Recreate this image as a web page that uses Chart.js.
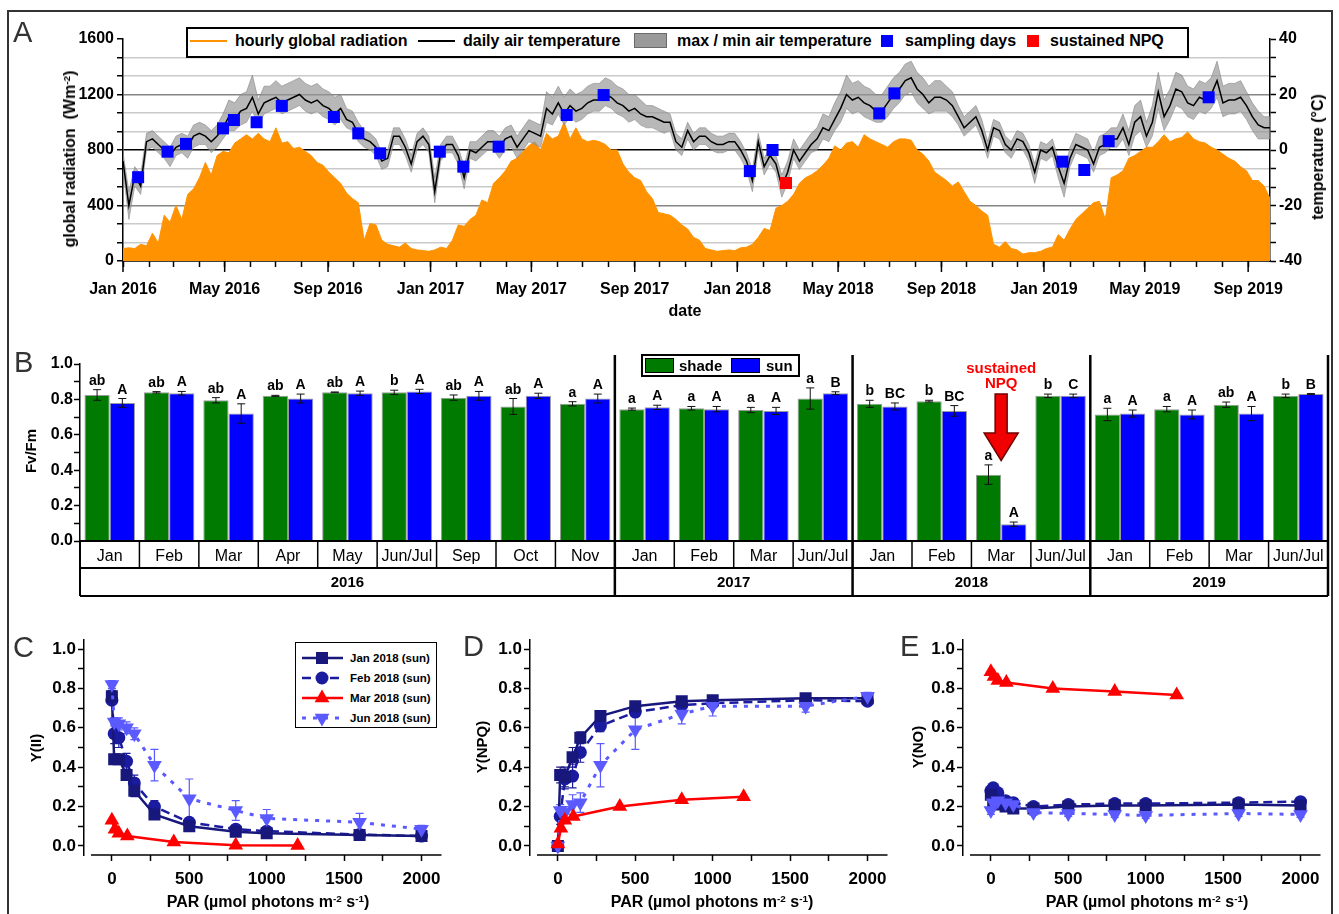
<!DOCTYPE html>
<html>
<head>
<meta charset="utf-8">
<title>Figure</title>
<script src="https://cdn.jsdelivr.net/npm/chart.js@4.4.1/dist/chart.umd.min.js"></script>
<style>
html,body{margin:0;padding:0;background:#fff;}
body{width:1339px;height:914px;position:relative;overflow:hidden;font-family:"Liberation Sans",Arial,Helvetica,sans-serif;color:#000;}
canvas{position:absolute;}
.abs{position:absolute;white-space:nowrap;}
.lbl{position:absolute;white-space:nowrap;font-weight:bold;line-height:1;transform:translate(-50%,-50%);}
.rot{position:absolute;white-space:nowrap;font-weight:bold;line-height:1;transform:translate(-50%,-50%) rotate(-90deg);}
.panel{position:absolute;font-size:29px;line-height:1;color:#333;}
sup{font-size:0.62em;vertical-align:0.55em;line-height:0;}
.lgA{position:absolute;font-weight:bold;font-size:16px;line-height:16px;top:33px;white-space:nowrap;}
.lgC{position:absolute;font-weight:bold;font-size:11.5px;line-height:12px;white-space:nowrap;left:350px;}
</style>
</head>
<body>
<div class="abs" style="left:7px;top:10px;width:1326px;height:940px;border:2px solid #333;box-sizing:border-box;"></div>
<canvas id="cA" width="1339" height="330" style="left:0;top:0"></canvas>
<canvas id="cB" width="1339" height="290" style="left:0;top:330px"></canvas>
<canvas id="cC" width="450" height="294" style="left:0;top:620px"></canvas>
<canvas id="cD" width="450" height="294" style="left:446px;top:620px"></canvas>
<canvas id="cE" width="450" height="294" style="left:879px;top:620px"></canvas>

<!-- Panel A texts & legend -->
<div class="panel" style="left:13px;top:18px">A</div>
<div class="rot" style="left:70px;top:159px;font-size:16px">global radiation&nbsp;&nbsp;(Wm<sup>-2</sup>)</div>
<div class="rot" style="left:1318px;top:157px;font-size:16px">temperature (°C)</div>
<div class="lbl" style="left:685px;top:311px;font-size:16px">date</div>
<div class="abs" style="left:186px;top:27px;width:1003px;height:31px;border:2px solid #000;background:#fff;box-sizing:border-box"></div>
<div class="abs" style="left:190px;top:40px;width:37px;height:2px;background:#ff9200"></div>
<div class="lgA" style="left:235px">hourly global radiation</div>
<div class="abs" style="left:418px;top:40px;width:37px;height:2px;background:#000"></div>
<div class="lgA" style="left:463px">daily air temperature</div>
<div class="abs" style="left:634px;top:33px;width:33px;height:15px;background:#9a9a9a;border:1px solid #6a6a6a;box-sizing:border-box"></div>
<div class="lgA" style="left:677px">max / min air temperature</div>
<div class="abs" style="left:881px;top:35px;width:12px;height:12px;background:#0000ff"></div>
<div class="lgA" style="left:905px">sampling days</div>
<div class="abs" style="left:1027px;top:35px;width:12px;height:12px;background:#ff0000"></div>
<div class="lgA" style="left:1050px">sustained NPQ</div>

<!-- Panel B texts & legend -->
<div class="panel" style="left:14px;top:348px">B</div>
<div class="rot" style="left:30px;top:451px;font-size:15px">Fv/Fm</div>
<div class="abs" style="left:641px;top:354px;width:159px;height:23px;border:2px solid #000;background:#fff;box-sizing:border-box"></div>
<div class="abs" style="left:645px;top:358px;width:29px;height:15px;background:#007a00;border:1px solid #000;box-sizing:border-box"></div>
<div class="abs" style="left:679px;top:358px;font-weight:bold;font-size:15px;line-height:15px">shade</div>
<div class="abs" style="left:731px;top:358px;width:29px;height:15px;background:#0000ff;border:1px solid #000;box-sizing:border-box"></div>
<div class="abs" style="left:766px;top:358px;font-weight:bold;font-size:15px;line-height:15px">sun</div>

<!-- Panels C, D, E texts -->
<div class="panel" style="left:13px;top:633px">C</div>
<div class="rot" style="left:35px;top:748px;font-size:15px">Y(II)</div>
<div class="lbl" style="left:268px;top:902px;font-size:16px">PAR (µmol photons m<sup>-2</sup> s<sup>-1</sup>)</div>
<div class="panel" style="left:463px;top:632px">D</div>
<div class="rot" style="left:481px;top:747px;font-size:15px">Y(NPQ)</div>
<div class="lbl" style="left:712px;top:902px;font-size:16px">PAR (µmol photons m<sup>-2</sup> s<sup>-1</sup>)</div>
<div class="panel" style="left:900px;top:632px">E</div>
<div class="rot" style="left:917px;top:747px;font-size:15px">Y(NO)</div>
<div class="lbl" style="left:1147px;top:902px;font-size:16px">PAR (µmol photons m<sup>-2</sup> s<sup>-1</sup>)</div>
<div class="abs" id="legC" style="left:295px;top:642px;width:142px;height:86px;border:1.5px solid #000;background:#fff;box-sizing:border-box"></div>

<script>
// ---------------- DATA ----------------
// Panel A: weekly readings (first value = 1 Jan 2016, one value every 7 days)
const seriesStart = '2016-01-01';
const seriesStepDays = 7;
const axisEndDay = 1365;
const radiation = [
90,95,90,120,110,200,130,330,280,400,300,480,520,600,710,620,760,790,780,850,880,910,880,920,880,860,960,850,860,810,820,790,760,710,690,640,600,560,490,450,420,150,270,260,150,120,110,100,130,90,
80,75,70,80,100,90,150,260,250,300,330,440,420,560,600,650,720,740,790,830,860,800,920,880,900,1000,880,960,880,860,870,860,840,800,800,700,640,600,580,500,450,350,340,330,300,260,230,170,150,
90,80,70,75,80,75,95,100,120,170,235,220,380,400,430,480,560,600,620,650,690,740,830,800,850,860,820,910,880,860,840,820,860,880,880,870,800,770,720,640,610,580,540,570,500,430,400,360,
330,120,100,140,90,80,50,60,60,70,90,100,190,150,230,300,340,380,420,430,300,600,620,650,740,760,790,820,820,860,910,860,880,890,930,880,860,850,820,800,770,740,720,680,650,580,580,540,450];
const tempMean = [
-4,-20,-9,-13,3,4,2,0,-2,1,2,1,5,6,5,3,5,8,12,11,14,15,19,13,17,18,19,17,18,19,20,18,17,18,16,15,13,15,11,10,6,4,3,1,-4,-3,5,5,1,-5,
3,5,2,-15,-1,2,2,-2,-10,0,-1,1,3,3,1,4,5,1,4,7,6,5,15,13,17,13,16,14,15,17,18,18,20,19,17,16,14,15,13,12,12,11,10,10,3,1,7,3,5,
5,3,2,2,3,3,0,-4,-11,3,-6,-2,-5,-13,-8,0,-4,-1,2,4,8,7,11,15,20,18,19,17,16,14,14,17,20,22,25,26,22,20,17,19,19,18,16,12,8,10,12,7,
0,8,7,2,0,4,3,-1,-8,0,-1,1,-6,-12,-3,2,1,0,-5,1,2,4,4,8,2,10,12,5,10,21,12,16,22,21,17,16,19,18,20,25,17,18,18,19,16,12,9,8,8];
const tempMax = [
-1,-15,-6,-9,6,7,5,3,1,5,6,5,9,10,9,7,9,13,18,17,20,21,27,18,23,23,25,23,24,25,26,24,23,24,22,21,19,20,15,14,10,7,6,4,-1,0,8,8,4,-2,
6,8,5,-10,2,5,5,1,-6,3,3,5,7,7,5,8,9,5,8,11,10,9,21,19,23,19,22,20,21,23,24,24,26,25,23,22,20,20,18,16,16,15,14,13,6,4,10,6,8,
8,6,5,5,6,6,3,-1,-7,6,-3,1,-2,-9,-4,4,0,3,6,8,13,12,17,21,27,24,25,23,22,20,20,23,26,28,31,32,28,26,23,25,25,23,21,16,12,14,16,11,
3,11,10,5,3,7,6,2,-5,3,2,4,-3,-8,1,6,5,4,-1,5,6,8,8,13,7,16,18,10,16,28,18,22,28,27,23,22,25,24,26,32,23,24,24,25,21,17,14,12,12];
const tempMin = [
-7,-25,-13,-16,0,1,-1,-3,-6,-2,-1,-3,1,2,2,-1,1,4,7,7,9,10,14,9,13,14,15,13,14,15,16,14,13,14,12,11,9,11,8,7,3,1,0,-2,-7,-6,2,2,-2,-8,
0,2,-1,-19,-4,-1,-1,-5,-14,-3,-4,-2,0,0,-3,0,1,-3,0,3,2,1,10,9,13,9,12,10,11,13,14,14,16,15,13,12,10,11,9,8,8,7,6,7,0,-2,4,0,2,
2,0,-1,-1,0,0,-3,-7,-15,0,-9,-5,-8,-17,-12,-3,-7,-4,-1,0,4,3,7,10,15,13,14,12,11,10,10,12,15,17,20,21,17,15,13,14,14,14,12,9,5,7,9,4,
-3,5,4,-1,-3,1,0,-4,-12,-3,-4,-2,-10,-17,-6,-1,-2,-3,-8,-2,-1,1,1,4,-2,5,7,1,5,15,7,11,16,15,12,11,14,13,15,19,12,13,13,14,11,7,4,4,4];
const samplingDates = ['2016-01-19','2016-02-23','2016-03-16','2016-04-29','2016-05-12','2016-06-08','2016-07-08','2016-09-08','2016-10-07','2016-11-02','2017-01-12','2017-02-09','2017-03-23','2017-06-12','2017-07-26','2018-01-16','2018-02-12','2018-06-19','2018-07-07','2019-01-23','2019-02-18','2019-03-19','2019-07-16'];
const samplingTemp = [-9.8,-0.6,2.2,7.8,10.8,10,15.9,11.9,6,-1.2,-0.6,-6,1.2,12.6,19.8,-7.6,0,13.2,20.4,-4.2,-7.2,3.2,19];
const npqDates = ['2018-02-28'];
const npqTemp = [-11.9];
const monthNames = ['Jan','Feb','Mar','Apr','May','Jun','Jul','Aug','Sep','Oct','Nov','Dec'];
const radTickLabels = [0,400,800,1200,1600];
const tempTickLabels = [-40,-20,0,20,40];

// Panel B
const monthCats = ['Jan','Feb','Mar','Apr','May','Jun/Jul','Sep','Oct','Nov','Jan','Feb','Mar','Jun/Jul','Jan','Feb','Mar','Jun/Jul','Jan','Feb','Mar','Jun/Jul'];
const yearLabels = ['2016','2017','2018','2019'];
const yearCounts = [9,4,4,4];
const shade    = [0.825,0.84,0.795,0.82,0.84,0.84,0.81,0.76,0.775, 0.745,0.75,0.74,0.805, 0.775,0.79,0.375,0.82, 0.715,0.745,0.77,0.82];
const shadeErr = [0.03,0.004,0.015,0.003,0.002,0.012,0.015,0.045,0.012, 0.006,0.01,0.015,0.06, 0.02,0.005,0.055,0.01, 0.035,0.015,0.015,0.01];
const sun      = [0.78,0.835,0.72,0.805,0.835,0.845,0.82,0.82,0.805, 0.755,0.745,0.735,0.835, 0.76,0.735,0.095,0.82, 0.72,0.715,0.72,0.83];
const sunErr   = [0.025,0.01,0.055,0.025,0.012,0.012,0.025,0.015,0.025, 0.012,0.015,0.02,0.008, 0.02,0.03,0.012,0.01, 0.02,0.025,0.04,0.003];
const shadeLetters = ['ab','ab','ab','ab','ab','b','ab','ab','a','a','a','a','a','b','b','a','b','a','a','ab','b'];
const sunLetters   = ['A','A','A','A','A','A','A','A','A','A','A','A','B','BC','BC','A','C','A','A','A','B'];
const npqCategory = 15;

// Panels C-E (light curves)
const parSun = [0,15,45,95,145,275,500,800,1000,1600,2000];
const parMar = [0,20,45,100,400,800,1200];
const yiiJan = [0.76,0.44,0.44,0.36,0.28,0.16,0.10,0.072,0.065,0.055,0.05];
const yiiFeb = [0.74,0.57,0.55,0.43,0.32,0.20,0.12,0.085,0.075,0.058,0.05];
const yiiJun = [0.82,0.63,0.62,0.60,0.57,0.41,0.24,0.18,0.14,0.12,0.085];
const yiiMar = [0.13,0.085,0.065,0.05,0.02,0.003,0.002];
const yiiJanErr = [0.03,0.02,0.02,0.02,0.03,0.02,0.015,0.01,0.01,0.01,0.01];
const yiiFebErr = [0.02,0.05,0.05,0.04,0.04,0.03,0.02,0.015,0.01,0.01,0.01];
const yiiJunErr = [0.02,0.02,0.03,0.03,0.03,0.08,0.1,0.05,0.045,0.045,0.02];
const npqJan = [0.0,0.36,0.35,0.45,0.55,0.66,0.71,0.735,0.74,0.75,0.75];
const npqFeb = [0.0,0.15,0.34,0.355,0.475,0.61,0.68,0.715,0.725,0.74,0.735];
const npqJun = [0.0,0.18,0.17,0.21,0.22,0.41,0.59,0.67,0.71,0.71,0.76];
const npqMar = [0.01,0.09,0.13,0.15,0.20,0.235,0.25];
const npqJanErr = [0.01,0.04,0.05,0.05,0.03,0.02,0.015,0.01,0.01,0.01,0.01];
const npqFebErr = [0.01,0.04,0.05,0.06,0.05,0.03,0.02,0.015,0.01,0.01,0.01];
const npqJunErr = [0.01,0.03,0.03,0.05,0.05,0.11,0.1,0.05,0.05,0.03,0.02];
const noJan = [0.26,0.23,0.21,0.20,0.19,0.19,0.20,0.205,0.205,0.21,0.205];
const noFeb = [0.28,0.295,0.27,0.23,0.22,0.20,0.21,0.215,0.215,0.22,0.225];
const noJun = [0.18,0.22,0.23,0.22,0.21,0.17,0.165,0.16,0.155,0.165,0.16];
const noMar = [0.885,0.86,0.84,0.83,0.80,0.784,0.767];
const noErr = [0.02,0.02,0.02,0.02,0.02,0.015,0.015,0.015,0.015,0.015,0.015];
const parTicks = [0,250,500,750,1000,1250,1500,1750,2000];
const yieldTicks = [0,0.1,0.2,0.3,0.4,0.5,0.6,0.7,0.8,0.9,1.0];

// ---------------- HELPERS ----------------
const FONT = '"Liberation Sans", Arial, Helvetica, sans-serif';
Chart.defaults.font.family = FONT;
Chart.defaults.color = '#000';
const DAY0 = Date.UTC(2016,0,1);
const dayOf = s => Math.round((Date.parse(s+'T00:00:00Z') - DAY0)/864e5);
const weekly = arr => arr.map((v,i) => ({x: dayOf(seriesStart) + i*seriesStepDays, y: v}));
const minorTicks = (labels, per) => { const out=[]; for(let k=0;k<labels.length-1;k++){ for(let j=0;j<per;j++) out.push(labels[k] + (labels[k+1]-labels[k])*j/per); } out.push(labels[labels.length-1]); return out; };
const radTicks = minorTicks(radTickLabels,3);
const tempTicks = minorTicks(tempTickLabels,3);
const monthTicks = [];
for (let yr=2016; yr<=2019; yr++) for (let m=0; m<12; m++) {
  const d = (Date.UTC(yr,m,1)-DAY0)/864e5;
  if (d <= axisEndDay) monthTicks.push({value:d, text: m%4===0 ? monthNames[m]+' '+yr : '', big: m%4===0});
}
function line(ctx,x1,y1,x2,y2,w,c){ctx.save();ctx.strokeStyle=c||'#000';ctx.lineWidth=w;ctx.beginPath();ctx.moveTo(x1,y1);ctx.lineTo(x2,y2);ctx.stroke();ctx.restore();}
const baseOpts = {responsive:false, animation:false, devicePixelRatio:1, events:[], plugins:{legend:{display:false}, tooltip:{enabled:false}}};

// ---------------- PANEL A ----------------
const majorTickPlugin = {
  id:'majorTicks',
  afterDraw(chart){
    const {ctx, scales:{x}, chartArea} = chart;
    monthTicks.forEach(t => { if (t.big) { const px = x.getPixelForValue(t.value); line(ctx, px, chartArea.bottom, px, chartArea.bottom+11, 1.5); } });
  }
};
new Chart(document.getElementById('cA'), {
  type:'line',
  data:{datasets:[
    {label:'sampling days', data: samplingDates.map((d,i)=>({x:dayOf(d), y:samplingTemp[i]})), yAxisID:'yT', showLine:false, pointStyle:'rect', pointRadius:8.5, pointBackgroundColor:'#0000ff', pointBorderWidth:0, order:0},
    {label:'sustained NPQ', data: npqDates.map((d,i)=>({x:dayOf(d), y:npqTemp[i]})), yAxisID:'yT', showLine:false, pointStyle:'rect', pointRadius:8.5, pointBackgroundColor:'#ff0000', pointBorderWidth:0, order:0},
    {label:'daily air temperature', data: weekly(tempMean), yAxisID:'yT', borderColor:'#000', borderWidth:1.5, pointRadius:0, tension:0, fill:false, order:1},
    {label:'max air temperature', data: weekly(tempMax), yAxisID:'yT', borderColor:'rgba(125,125,125,0.8)', borderWidth:0.7, pointRadius:0, tension:0, fill:'+1', backgroundColor:'rgba(150,150,150,0.68)', order:2},
    {label:'min air temperature', data: weekly(tempMin), yAxisID:'yT', borderColor:'rgba(125,125,125,0.8)', borderWidth:0.7, pointRadius:0, tension:0, fill:false, order:3},
    {label:'hourly global radiation', data: weekly(radiation), yAxisID:'yR', borderColor:'#ff9200', borderWidth:1, backgroundColor:'#ff9200', fill:'origin', pointRadius:0, tension:0, order:4}
  ]},
  options:Object.assign({}, baseOpts, {
    layout:{padding:{left:63, right:19, top:39, bottom:0}},
    scales:{
      x:{type:'linear', min:0, max:axisEndDay,
        afterBuildTicks:s=>{s.ticks = monthTicks.map(t=>({value:t.value}));},
        afterFit:s=>{s.height = 69;},
        ticks:{autoSkip:false, maxRotation:0, minRotation:0, padding:13, font:{size:16, weight:'bold'}, color:'#000',
          callback:v=>{const t = monthTicks.find(q=>q.value===v); return t ? t.text : '';}},
        grid:{drawOnChartArea:false, drawTicks:true, tickLength:6, tickColor:'#000', tickWidth:1.5},
        border:{color:'#000', width:1.5}},
      yR:{type:'linear', position:'left', min:0, max:1600,
        afterBuildTicks:s=>{s.ticks = radTicks.map(v=>({value:v}));},
        afterFit:s=>{s.width = 60;},
        ticks:{autoSkip:false, padding:3, font:{size:16, weight:'bold'}, color:'#000', callback:v=>{const r = radTickLabels.find(q=>Math.abs(q-v)<1e-6); return r===undefined ? '' : String(r);}},
        grid:{color:c=>{const i=c.index; if(i===radTicks.length-1) return 'rgba(0,0,0,0)'; if(i===6||i===0) return '#000'; if(i%3===0) return '#858585'; return '#cacaca';}, lineWidth:1.5, drawTicks:true, tickLength:6, tickColor:'#000', tickWidth:1.5},
        border:{color:'#000', width:1.5}},
      yT:{type:'linear', position:'right', min:-40, max:40,
        afterBuildTicks:s=>{s.ticks = tempTicks.map(v=>({value:v}));},
        afterFit:s=>{s.width = 50;},
        ticks:{autoSkip:false, padding:3, font:{size:16, weight:'bold'}, color:'#000', callback:v=>{const r = tempTickLabels.find(q=>Math.abs(q-v)<1e-6); return r===undefined ? '' : String(r);}},
        grid:{drawOnChartArea:false, drawTicks:true, tickLength:6, tickColor:'#000', tickWidth:1.5},
        border:{color:'#000', width:1.5}}
    }
  }),
  plugins:[majorTickPlugin]
});

// ---------------- PANEL B ----------------
const bPlugin = {
  id:'bExtras',
  afterDatasetsDraw(chart){
    const {ctx, scales:{x,y}} = chart;
    [[0, shade, shadeErr, shadeLetters],[1, sun, sunErr, sunLetters]].forEach(([di, vals, errs, lets]) => {
      chart.getDatasetMeta(di).data.forEach((bar,i) => {
        const t = y.getPixelForValue(vals[i]+errs[i]), b = y.getPixelForValue(vals[i]-errs[i]);
        ctx.save(); ctx.strokeStyle='#111'; ctx.lineWidth=1; ctx.beginPath();
        ctx.moveTo(bar.x,t); ctx.lineTo(bar.x,b); ctx.moveTo(bar.x-4,t); ctx.lineTo(bar.x+4,t); ctx.moveTo(bar.x-4,b); ctx.lineTo(bar.x+4,b); ctx.stroke();
        ctx.fillStyle='#000'; ctx.font='bold 14px '+FONT; ctx.textAlign='center'; ctx.textBaseline='alphabetic';
        ctx.fillText(lets[i], bar.x, t-5); ctx.restore();
      });
    });
    // sustained NPQ annotation
    const cx = x.getPixelForValue(npqCategory);
    ctx.save(); ctx.fillStyle='#ff0000'; ctx.font='bold 15px '+FONT; ctx.textAlign='center'; ctx.textBaseline='middle';
    ctx.fillText('sustained', cx, y.getPixelForValue(0.975)); ctx.fillText('NPQ', cx, y.getPixelForValue(0.885));
    const yt = y.getPixelForValue(0.83), yh = y.getPixelForValue(0.61), yp = y.getPixelForValue(0.455);
    ctx.beginPath(); ctx.moveTo(cx-6,yt); ctx.lineTo(cx+6,yt); ctx.lineTo(cx+6,yh); ctx.lineTo(cx+17,yh); ctx.lineTo(cx,yp); ctx.lineTo(cx-17,yh); ctx.lineTo(cx-6,yh); ctx.closePath();
    ctx.fillStyle='#f00000'; ctx.fill(); ctx.strokeStyle='#700000'; ctx.lineWidth=1.5; ctx.stroke(); ctx.restore();
  },
  afterDraw(chart){
    const {ctx, scales:{x,y}, chartArea} = chart;
    const n = monthCats.length, cw = (x.right-x.left)/n;
    const y0 = chartArea.bottom, y1 = y0+27, y2 = y0+55, yTop = y.getPixelForValue(1)-9;
    line(ctx, x.left, y0, x.right, y0, 2);
    line(ctx, x.left, y1, x.right, y1, 2);
    line(ctx, x.left, y2, x.right, y2, 2);
    for (let i=1;i<n;i++) line(ctx, x.left+i*cw, y0, x.left+i*cw, y1, 1.5);
    line(ctx, x.left, y0, x.left, y2, 2);
    let acc = 0;
    ctx.save(); ctx.font='bold 15px '+FONT; ctx.fillStyle='#000'; ctx.textAlign='center'; ctx.textBaseline='middle';
    yearCounts.forEach((c,k) => { const xs0 = x.left+acc*cw; acc += c; const xs1 = x.left+acc*cw; ctx.fillText(yearLabels[k], (xs0+xs1)/2, (y1+y2)/2+1); line(ctx, xs1, yTop, xs1, y2, 2.5); });
    ctx.restore();
  }
};
new Chart(document.getElementById('cB'), {
  type:'bar',
  data:{labels:monthCats, datasets:[
    {label:'shade', data:shade, backgroundColor:'#007a00', borderColor:'rgba(0,0,0,0.4)', borderWidth:1, categoryPercentage:0.85, barPercentage:1},
    {label:'sun', data:sun, backgroundColor:'#0000ff', borderColor:'rgba(0,0,0,0.4)', borderWidth:1, categoryPercentage:0.85, barPercentage:1}
  ]},
  options:Object.assign({}, baseOpts, {
    layout:{padding:{left:24, right:11, top:34, bottom:0}},
    scales:{
      x:{afterFit:s=>{s.height = 79;}, ticks:{autoSkip:false, maxRotation:0, minRotation:0, padding:6, font:{size:16}, color:'#000'},
        grid:{display:true, drawOnChartArea:false, drawTicks:false}, border:{display:false}},
      y:{min:0, max:1, afterBuildTicks:s=>{s.ticks = yieldTicks.map(v=>({value:v}));}, afterFit:s=>{s.width = 56;},
        ticks:{autoSkip:false, padding:1, font:{size:16, weight:'bold'}, color:'#000', callback:v=>{const k=Math.round(v*10); return k%2===0 ? (k/10).toFixed(1) : '';}},
        grid:{drawOnChartArea:false, drawTicks:true, tickLength:6, tickColor:'#000', tickWidth:1.5}, border:{color:'#000', width:1.5}}
    }
  }),
  plugins:[bPlugin]
});

// ---------------- PANELS C, D, E ----------------
const styles = {
  jan:{label:'Jan 2018 (sun)', color:'#17177c', dash:[], point:'rect', radius:8.5, rot:0, width:2.5, order:2},
  feb:{label:'Feb 2018 (sun)', color:'#1b1ba0', dash:[9,5], point:'circle', radius:6.5, rot:0, width:2.5, order:3},
  mar:{label:'Mar 2018 (sun)', color:'#ff0000', dash:[], point:'triangle', radius:8.5, rot:0, width:2.5, order:0},
  jun:{label:'Jun 2018 (sun)', color:'#5a5aff', dash:[4,7], point:'triangle', radius:8.5, rot:180, width:3, order:1}
};
function ds(st, xs, ys, errs){
  return {label:st.label, data:xs.map((v,i)=>({x:v, y:ys[i]})), errors:errs, borderColor:st.color, backgroundColor:st.color,
    pointBackgroundColor:st.color, pointBorderColor:st.color, pointBorderWidth:0, borderWidth:st.width, borderDash:st.dash,
    pointStyle:st.point, pointRadius:st.radius, pointRotation:st.rot, tension:0, fill:false, order:st.order};
}
const errPlugin = {
  id:'errBars',
  beforeDatasetsDraw(chart){
    const {ctx, scales:{x,y}} = chart;
    chart.data.datasets.forEach(d => {
      if (!d.errors) return;
      ctx.save(); ctx.strokeStyle = d.borderColor; ctx.lineWidth = 1.2; ctx.setLineDash([]);
      d.data.forEach((p,i) => {
        const e = d.errors[i]; if (!e) return;
        const px = x.getPixelForValue(p.x), t = y.getPixelForValue(p.y+e), b = y.getPixelForValue(p.y-e);
        ctx.beginPath(); ctx.moveTo(px,t); ctx.lineTo(px,b); ctx.moveTo(px-4,t); ctx.lineTo(px+4,t); ctx.moveTo(px-4,b); ctx.lineTo(px+4,b); ctx.stroke();
      });
      ctx.restore();
    });
  },
  afterDraw(chart){
    const {ctx, scales:{x}, chartArea} = chart;
    line(ctx, x.getPixelForValue(-135), chartArea.bottom, chartArea.right, chartArea.bottom, 1.5);
  }
};
function curveChart(id, sets){
  return new Chart(document.getElementById(id), {
    type:'line',
    data:{datasets:sets},
    options:Object.assign({}, baseOpts, {
      layout:{padding:{left:24, right:7, top:20, bottom:0}},
      scales:{
        x:{type:'linear', min:-180, max:2129, afterBuildTicks:s=>{s.ticks = parTicks.map(v=>({value:v}));}, afterFit:s=>{s.height = 59;},
          ticks:{autoSkip:false, maxRotation:0, padding:8, font:{size:17, weight:'bold'}, color:'#000', callback:v=> v%500===0 ? String(v) : ''},
          grid:{drawOnChartArea:false, drawTicks:true, tickLength:6, tickColor:'#000', tickWidth:1.5}, border:{display:false}},
        y:{min:-0.046, max:1.046, afterBuildTicks:s=>{s.ticks = yieldTicks.map(v=>({value:v}));}, afterFit:s=>{s.width = 60;},
          ticks:{autoSkip:false, padding:2, font:{size:17, weight:'bold'}, color:'#000', callback:v=>{const k=Math.round(v*10); return k%2===0 ? (k/10).toFixed(1) : '';}},
          grid:{drawOnChartArea:false, drawTicks:true, tickLength:6, tickColor:'#000', tickWidth:1.5}, border:{color:'#000', width:1.5}}
      }
    }),
    plugins:[errPlugin]
  });
}
curveChart('cC', [ds(styles.jan, parSun, yiiJan, yiiJanErr), ds(styles.feb, parSun, yiiFeb, yiiFebErr), ds(styles.mar, parMar, yiiMar, null), ds(styles.jun, parSun, yiiJun, yiiJunErr)]);
curveChart('cD', [ds(styles.jan, parSun, npqJan, npqJanErr), ds(styles.feb, parSun, npqFeb, npqFebErr), ds(styles.mar, parMar, npqMar, null), ds(styles.jun, parSun, npqJun, npqJunErr)]);
curveChart('cE', [ds(styles.jan, parSun, noJan, noErr), ds(styles.feb, parSun, noFeb, noErr), ds(styles.mar, parMar, noMar, null), ds(styles.jun, parSun, noJun, noErr)]);

// legend of panel C
(function(){
  const rows = [styles.jan, styles.feb, styles.mar, styles.jun];
  const centers = [658, 678, 698, 718];
  let html = '';
  rows.forEach((st,k) => {
    const cy = centers[k], top = cy-10;
    let mk = '';
    if (st.point==='rect') mk = `<rect x="15" y="4" width="12" height="12" fill="${st.color}"/>`;
    else if (st.point==='circle') mk = `<circle cx="21" cy="10" r="6.5" fill="${st.color}"/>`;
    else if (st.rot===180) mk = `<polygon points="13.6,5.8 28.4,5.8 21,18.5" fill="${st.color}"/>`;
    else mk = `<polygon points="21,1.5 28.4,14.2 13.6,14.2" fill="${st.color}"/>`;
    html += `<svg width="44" height="20" style="position:absolute;left:301px;top:${top}px"><line x1="1" y1="10" x2="42" y2="10" stroke="${st.color}" stroke-width="${st.width}" stroke-dasharray="${st.dash.join(',')||'none'}"/>${mk}</svg>`;
    html += `<div class="lgC" style="top:${cy-6}px">${st.label}</div>`;
  });
  document.getElementById('legC').insertAdjacentHTML('afterend', html);
})();
</script>
</body>
</html>
